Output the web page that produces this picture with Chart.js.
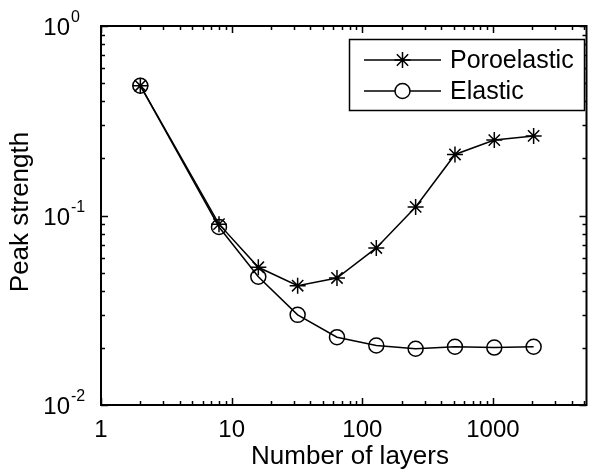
<!DOCTYPE html>
<html>
<head>
<meta charset="utf-8">
<script src="https://cdn.jsdelivr.net/npm/chart.js@4"></script>
<style>
  html, body { margin: 0; padding: 0; background: #fff; }
  #wrap { width: 596px; height: 474px; overflow: hidden; }
</style>
</head>
<body>
<div id="wrap"><canvas id="chart" width="596" height="474"></canvas></div>
<script>
// data
const layers = [2, 8, 16, 32, 64, 128, 256, 512, 1024, 2048];
const poroelastic = [0.484, 0.090, 0.0533, 0.0426, 0.0468, 0.0674, 0.111, 0.210, 0.250, 0.263];
const elastic = [0.484, 0.087, 0.0475, 0.0299, 0.0228, 0.0206, 0.0198, 0.0203, 0.0201, 0.0203];
const xTicks = [1, 10, 100, 1000];
const xTickLabels = ['1', '10', '100', '1000'];
const yTicks = [0.01, 0.1, 1];
const yTickExp = ['-2', '-1', '0'];
const seriesNames = ['Poroelastic', 'Elastic'];

const FONT = 'Arial, "Liberation Sans", Helvetica, sans-serif';

// minor tick values for a log range
function minorTicks(min, max) {
    const out = [];
    for (let d = Math.floor(Math.log10(min)); d <= Math.ceil(Math.log10(max)); d++) {
        for (let m = 1; m <= 9; m++) {
            const v = m * Math.pow(10, d);
            if (v >= min && v <= max) out.push({ v: v, major: m === 1 });
        }
    }
    return out;
}

const axesPlugin = {
    id: 'matlabAxes',
    afterDatasetsDraw(chart) {
        const ctx = chart.ctx;
        const a = chart.chartArea;
        const xs = chart.scales.x;
        const ys = chart.scales.y;
        ctx.save();
        ctx.strokeStyle = '#000';
        ctx.fillStyle = '#000';

        // inward ticks on all four sides
        ctx.lineWidth = 1.5;
        minorTicks(xs.min, xs.max).forEach(t => {
            const px = Math.round(xs.getPixelForValue(t.v)) + 0.5;
            const len = t.major ? 7 : 4;
            ctx.beginPath();
            ctx.moveTo(px, a.bottom); ctx.lineTo(px, a.bottom - len);
            ctx.moveTo(px, a.top); ctx.lineTo(px, a.top + len);
            ctx.stroke();
        });
        minorTicks(ys.min, ys.max).forEach(t => {
            const py = Math.round(ys.getPixelForValue(t.v)) + 0.5;
            const len = t.major ? 7 : 4;
            ctx.beginPath();
            ctx.moveTo(a.left, py); ctx.lineTo(a.left + len, py);
            ctx.moveTo(a.right, py); ctx.lineTo(a.right - len, py);
            ctx.stroke();
        });

        // frame
        ctx.lineWidth = 2;
        ctx.strokeRect(a.left, a.top, a.right - a.left, a.bottom - a.top);

        // x tick labels
        ctx.font = '24px ' + FONT;
        ctx.textAlign = 'center';
        ctx.textBaseline = 'alphabetic';
        xTicks.forEach((v, i) => {
            ctx.fillText(xTickLabels[i], xs.getPixelForValue(v), 437);
        });

        // y tick labels, 10 with superscript exponent
        yTicks.forEach((v, i) => {
            const py = ys.getPixelForValue(v);
            ctx.font = '24px ' + FONT;
            ctx.textAlign = 'right';
            ctx.fillText('10', 70, py + 9);
            ctx.font = '16px ' + FONT;
            ctx.textAlign = 'left';
            ctx.fillText(yTickExp[i], 71, py - 4);
        });

        // axis titles
        ctx.font = '26px ' + FONT;
        ctx.textAlign = 'center';
        ctx.fillText('Number of layers', 350, 464);
        ctx.save();
        ctx.translate(28, 212);
        ctx.rotate(-Math.PI / 2);
        ctx.fillText('Peak strength', 0, 0);
        ctx.restore();

        // legend box
        ctx.fillStyle = '#fff';
        ctx.fillRect(349, 39, 236, 72);
        ctx.lineWidth = 1.5;
        ctx.strokeStyle = '#000';
        ctx.strokeRect(349.5, 39.5, 235, 71);
        const rows = [60, 91];
        chart.data.datasets.forEach((ds, i) => {
            const y = rows[i];
            ctx.lineWidth = ds.borderWidth;
            ctx.strokeStyle = '#000';
            ctx.beginPath();
            ctx.moveTo(364, y); ctx.lineTo(441, y);
            ctx.stroke();
            ctx.fillStyle = '#fff';
            Chart.helpers.drawPoint(ctx, {
                pointStyle: ds.pointStyle,
                radius: ds.pointRadius,
                borderWidth: ds.pointBorderWidth,
                rotation: 0
            }, 402.5, y);
            ctx.fillStyle = '#000';
            ctx.font = '25px ' + FONT;
            ctx.textAlign = 'left';
            ctx.textBaseline = 'middle';
            ctx.fillText(seriesNames[i], 450, y + 1);
        });
        ctx.restore();
    }
};

const ctx = document.getElementById('chart').getContext('2d');
new Chart(ctx, {
    type: 'line',
    data: {
        datasets: [
            {
                label: seriesNames[0],
                data: layers.map((x, i) => ({ x: x, y: poroelastic[i] })),
                borderColor: '#000',
                backgroundColor: 'transparent',
                borderWidth: 1.5,
                pointStyle: 'star',
                pointRadius: 8,
                pointBorderWidth: 1.5,
                pointBorderColor: '#000',
                pointBackgroundColor: 'transparent',
                tension: 0,
                clip: false
            },
            {
                label: seriesNames[1],
                data: layers.map((x, i) => ({ x: x, y: elastic[i] })),
                borderColor: '#000',
                backgroundColor: 'transparent',
                borderWidth: 1.5,
                pointStyle: 'circle',
                pointRadius: 7.5,
                pointBorderWidth: 1.5,
                pointBorderColor: '#000',
                pointBackgroundColor: 'transparent',
                tension: 0,
                clip: false
            }
        ]
    },
    options: {
        responsive: false,
        animation: false,
        layout: { padding: { left: 101, top: 26, right: -3, bottom: 69 } },
        scales: {
            x: { type: 'logarithmic', min: 1, max: 5200, display: false },
            y: { type: 'logarithmic', min: 0.01, max: 1, display: false }
        },
        plugins: {
            legend: { display: false },
            tooltip: { enabled: false }
        }
    },
    plugins: [axesPlugin]
});
</script>
</body>
</html>
